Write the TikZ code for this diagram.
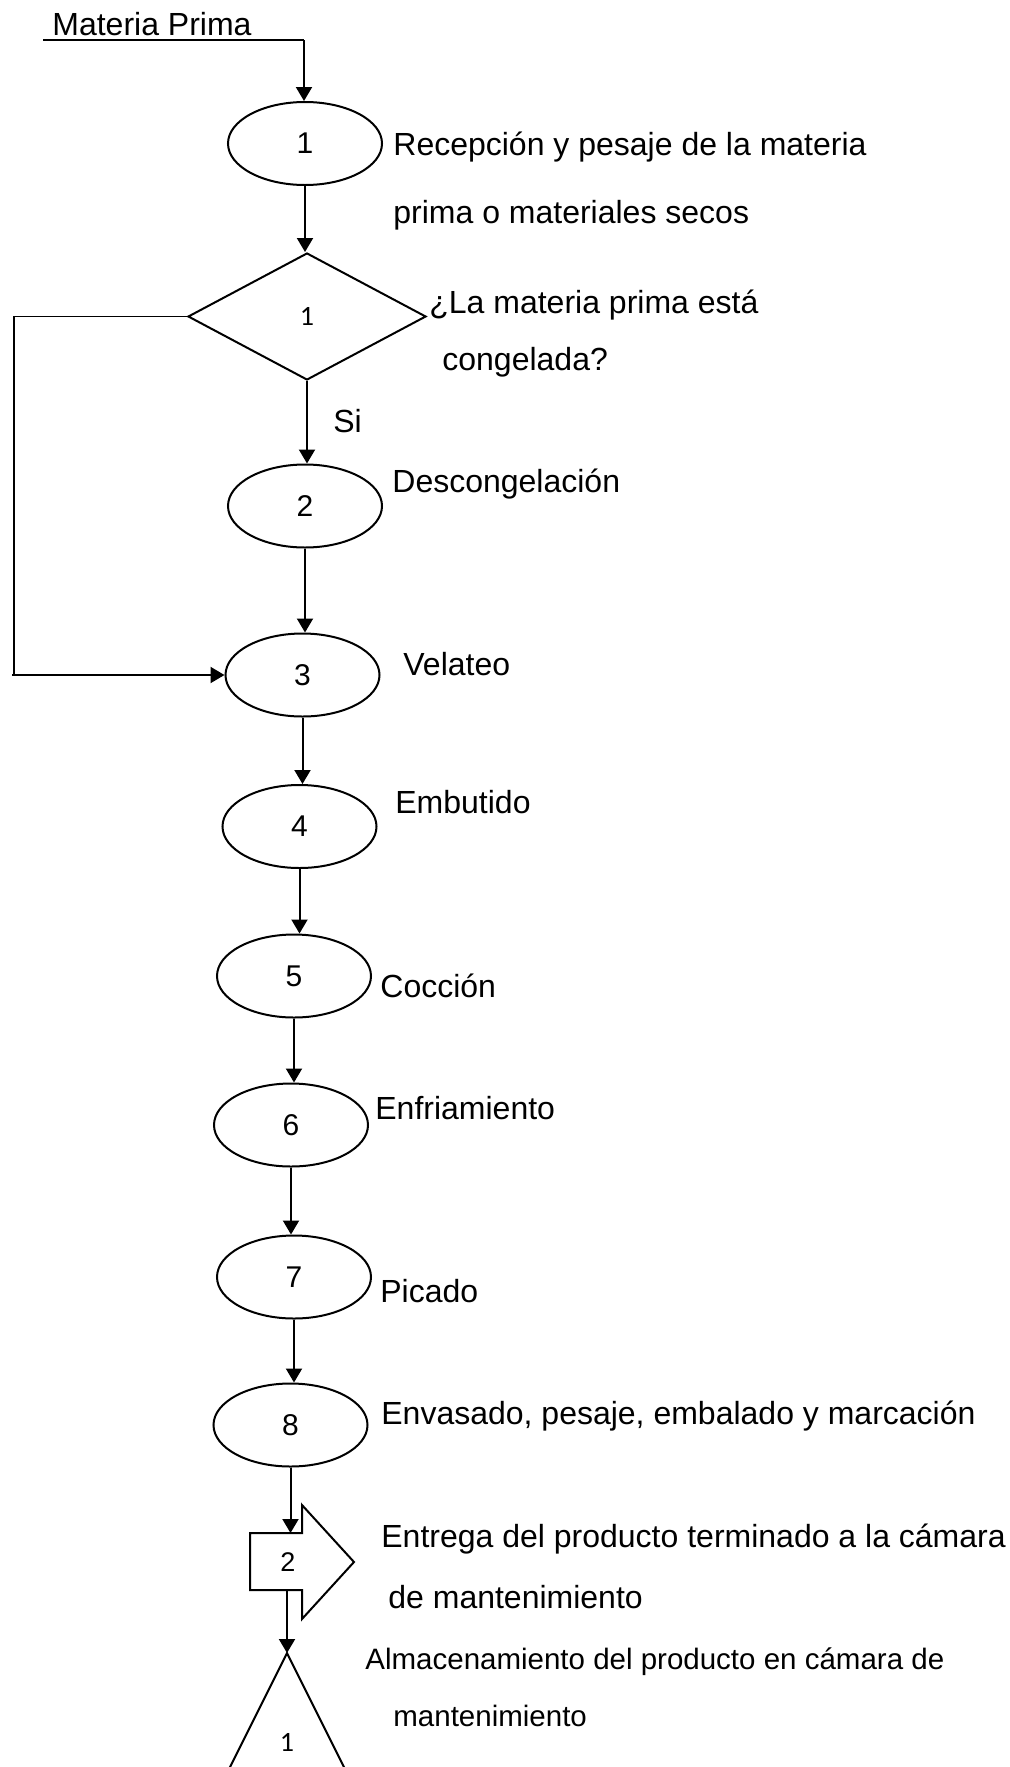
\documentclass[tikz,border=0pt]{standalone}
\usepackage{fontspec}
\setmainfont{Liberation Sans}
\newfontfamily\digitfont{Carlito}
\usetikzlibrary{shapes.geometric,arrows.meta}

\begin{document}
\begin{tikzpicture}[x=0.5pt,y=-0.5pt,
  proc/.style={ellipse,draw,line width=1pt,minimum width=77pt,minimum height=41.5pt,
    inner sep=0pt,font=\fontsize{15}{18}\selectfont},
  decision/.style={diamond,draw,line width=1pt,minimum width=119pt,minimum height=63.5pt,
    inner sep=0pt,font=\digitfont\fontsize{14}{16}\selectfont},
  lbl/.style={anchor=base west,inner sep=0pt,font=\fontsize{16}{19}\selectfont},
  smalllbl/.style={anchor=base west,inner sep=0pt,font=\fontsize{14.75}{18}\selectfont},
  flow/.style={line width=1pt,-{Triangle[length=7pt,width=8pt]}},
  thinline/.style={line width=0.65pt},
]
\clip (0,0) rectangle (1009,1767);
\fill[white] (0,0) rectangle (1009,1767);

% operations
\node[proc] (e1) at (305,143.5) {1};
\node[decision] (d1) at (307,316.5) {1};
\node[proc] (e2) at (305,506) {2};
\node[proc] (e3) at (302.5,675) {3};
\node[proc] (e4) at (299.5,826.5) {4};
\node[proc] (e5) at (294,976) {5};
\node[proc] (e6) at (291,1125) {6};
\node[proc] (e7) at (294,1277) {7};
\node[proc] (e8) at (290.5,1425) {8};

% transport symbol
\draw[line width=1pt] (250,1533) -- (302,1533) -- (302,1505) -- (354,1562)
  -- (302,1619) -- (302,1590) -- (250,1590) -- cycle;
\node[font=\fontsize{13.5}{16}\selectfont] (tr2) at (288,1562) {2};
\coordinate (p2top) at (289,1533);
\coordinate (p2bot) at (287,1590);

% storage symbol
\draw[line width=1pt] (216,1795) -- (287,1653) -- (358,1795) -- cycle;
\coordinate (triApex) at (287,1653);
\node[font=\digitfont\fontsize{14}{16}\selectfont] (st1) at (287,1742) {1};

% labels
\node[lbl] (mp) at (52,35) {Materia Prima};
\node[lbl] (t1a) at (393,155) {Recepción y pesaje de la materia};
\node[lbl] (t1b) at (393,223) {prima o materiales secos};
\node[lbl] (tq1) at (429,313) {¿La materia prima está};
\node[lbl] (tq2) at (442,370) {congelada?};
\node[lbl] (si) at (333,432) {Si};
\node[lbl] (t2) at (392,492) {Descongelación};
\node[lbl] (t3) at (403,675) {Velateo};
\node[lbl] (t4) at (395,813) {Embutido};
\node[lbl] (t5) at (380,997) {Cocción};
\node[lbl] (t6) at (375,1119) {Enfriamiento};
\node[lbl] (t7) at (380,1302) {Picado};
\node[lbl] (t8) at (381,1424) {Envasado, pesaje, embalado y marcación};
\node[lbl] (tt1) at (381,1547) {Entrega del producto terminado a la cámara};
\node[lbl] (tt2) at (388,1608) {de mantenimiento};
\node[smalllbl] (ts1) at (365,1669) {Almacenamiento del producto en cámara de};
\node[smalllbl] (ts2) at (393,1726) {mantenimiento};

% input line
\coordinate (mpstart) at (43,40);
\coordinate (mpturn) at (304,40);
\draw[thinline] (mpstart) -- (mpturn);
\draw[flow] (mpturn) -- (mpturn |- e1.north);

% main flow
\draw[flow] (e1.south) -- (e1.south |- d1.north);
\draw[flow] (d1.south) -- (d1.south |- e2.north);
\draw[flow] (e2.south) -- (e2.south |- e3.north);
\draw[flow] (e3.south) -- (e3.south |- e4.north);
\draw[flow] (e4.south) -- (e4.south |- e5.north);
\draw[flow] (e5.south) -- (e5.south |- e6.north);
\draw[flow] (e6.south) -- (e6.south |- e7.north);
\draw[flow] (e7.south) -- (e7.south |- e8.north);
\draw[flow] (e8.south) -- (e8.south |- p2top);
\draw[flow] (p2bot) -- (p2bot |- triApex);

% bypass when not frozen
\coordinate (lpA) at (14,316.5);
\coordinate (lpB) at (14,675);
\coordinate (lpC) at (12,675);
\draw[thinline] (d1.west) -- (lpA) -- (lpB);
\draw[flow] (lpC) -- (e3.west);
\end{tikzpicture}
\end{document}
